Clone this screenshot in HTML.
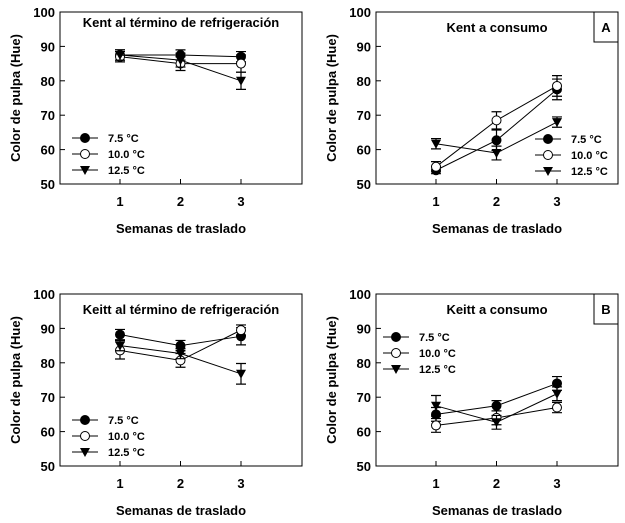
<!DOCTYPE html>
<html><head><meta charset="utf-8">
<style>
html,body{margin:0;padding:0;background:#fff;}
svg{display:block;font-family:"Liberation Sans","DejaVu Sans",sans-serif;font-weight:bold;}
</style></head>
<body>
<svg id="chart" width="625" height="523" viewBox="0 0 625 523" xmlns="http://www.w3.org/2000/svg"></svg>
<script>
const weeks = [1, 2, 3];
const yTicks = [50, 60, 70, 80, 90, 100];
const seriesLabels = ["7.5 °C", "10.0 °C", "12.5 °C"];
const titles = ["Kent al término de refrigeración", "Kent a consumo", "Keitt al término de refrigeración", "Keitt a consumo"];
const kentRef75 = [87.5, 87.5, 87];
const kentRef100 = [87, 85, 85];
const kentRef125 = [87.5, 86, 80];
const kentRefErr = [[1.5, 1.5, 1.5], [1.5, 2, 2.5], [1.5, 2, 2.5]];
const kentCon75 = [54, 62.7, 77.5];
const kentCon100 = [55, 68.5, 78.5];
const kentCon125 = [61.7, 59, 68];
const kentConErr = [[1, 3, 3], [1.5, 2.5, 3], [1.5, 2, 1.5]];
const keittRef75 = [88.2, 85, 87.7];
const keittRef100 = [83.6, 80.7, 89.5];
const keittRef125 = [85, 82.7, 76.8];
const keittRefErr = [[1.5, 1.5, 2.5], [2.5, 2, 1.5], [1.5, 1.5, 3]];
const keittCon75 = [65, 67.5, 74];
const keittCon100 = [61.8, 64, 67];
const keittCon125 = [67.5, 62.7, 71];
const keittConErr = [[2, 1.5, 2], [2, 2, 1.5], [3, 2, 2]];

const NS = "http://www.w3.org/2000/svg";
const svg = document.getElementById("chart");
function mk(tag, attrs, parent, text) {
  const e = document.createElementNS(NS, tag);
  for (const k in attrs) e.setAttribute(k, attrs[k]);
  if (text !== undefined) e.textContent = text;
  (parent || svg).appendChild(e);
  return e;
}
const panels = [
  {l:60, r:302, t:12, b:184, data:[kentRef75,kentRef100,kentRef125], err:kentRefErr, title:0, ty:27, tx:181, leg:{x:72, y:138}, box:null, name:"kent-refrigeration"},
  {l:376, r:618, t:12, b:184, data:[kentCon75,kentCon100,kentCon125], err:kentConErr, title:1, ty:32, tx:497, leg:{x:535, y:139}, box:"A", name:"kent-consumption"},
  {l:60, r:302, t:294, b:466, data:[keittRef75,keittRef100,keittRef125], err:keittRefErr, title:2, ty:314, tx:181, leg:{x:72, y:420}, box:null, name:"keitt-refrigeration"},
  {l:376, r:618, t:294, b:466, data:[keittCon75,keittCon100,keittCon125], err:keittConErr, title:3, ty:314, tx:497, leg:{x:383, y:337}, box:"B", name:"keitt-consumption"}
];
function marker(g, kind, x, y) {
  let m;
  if (kind === 0) m = mk("circle", {cx:x, cy:y, r:4.5, fill:"#000", stroke:"#000"}, g);
  else if (kind === 1) m = mk("circle", {cx:x, cy:y, r:4.5, fill:"#fff", stroke:"#000", "stroke-width":1}, g);
  else m = mk("path", {d:`M${x-5},${y-4}L${x+5},${y-4}L${x},${y+5}Z`, fill:"#000"}, g);
  return m;
}
panels.forEach(p => {
  const g = mk("g", {});
  
  
  const xs = w => p.l + 60 + (w - 1) * 60.5;
  const ys = v => p.b - (v - 50) / 50 * (p.b - p.t);
  const frame = mk("rect", {x:p.l, y:p.t, width:p.r-p.l, height:p.b-p.t, fill:"none", stroke:"#000", "stroke-width":1}, g);
  
  
  yTicks.forEach(v => {
    mk("line", {x1:p.l, x2:p.l+5, y1:ys(v), y2:ys(v), stroke:"#000"}, g);
    const t = mk("text", {x:p.l-5, y:ys(v)+5, "text-anchor":"end", "font-size":13}, g, v);
    
    
  });
  weeks.forEach(w => {
    mk("line", {x1:xs(w), x2:xs(w), y1:p.b, y2:p.b-5, stroke:"#000"}, g);
    const t = mk("text", {x:xs(w), y:p.b+22, "text-anchor":"middle", "font-size":13}, g, w);
    
    
  });
  const xt = mk("text", {x:(p.l+p.r)/2, y:p.b+49, "text-anchor":"middle", "font-size":13}, g, "Semanas de traslado");
  
  
  const cy = (p.t+p.b)/2, cx = p.l - 40;
  const yt = mk("text", {x:cx, y:cy, "text-anchor":"middle", "font-size":13, transform:`rotate(-90 ${cx} ${cy})`}, g, "Color de pulpa (Hue)");
  
  
  const tt = mk("text", {x:p.tx, y:p.ty, "text-anchor":"middle", "font-size":13}, g, titles[p.title]);
  
  
  if (p.box) {
    const b = mk("rect", {x:p.r-24, y:p.t, width:24, height:30, fill:"#fff", stroke:"#000"}, g);
    
    
    const bt = mk("text", {x:p.r-12, y:p.t+20, "text-anchor":"middle", "font-size":13}, g, p.box);
    
    
  }
  p.data.forEach((vals, si) => {
    const sg = mk("g", {}, g);
    
    
    const d = vals.map((v,i) => (i?"L":"M") + xs(weeks[i]) + "," + ys(v)).join("");
    const ln = mk("path", {d:d, fill:"none", stroke:"#000", "stroke-width":1}, sg);
    
    
    vals.forEach((v,i) => {
      const x = xs(weeks[i]), e = p.err[si][i];
      const eb = mk("path", {d:`M${x},${ys(v+e)}L${x},${ys(v-e)}M${x-5},${ys(v+e)}L${x+5},${ys(v+e)}M${x-5},${ys(v-e)}L${x+5},${ys(v-e)}`, stroke:"#000", "stroke-width":1.2, fill:"none"}, sg);
      
      
    });
    vals.forEach((v,i) => {
      const m = marker(sg, si, xs(weeks[i]), ys(v));
      
      
    });
  });
  seriesLabels.forEach((lab, si) => {
    const lg = mk("g", {}, g);
    
    
    const y = p.leg.y + si*16;
    mk("line", {x1:p.leg.x, x2:p.leg.x+26, y1:y, y2:y, stroke:"#000"}, lg);
    marker(lg, si, p.leg.x+13, y);
    mk("text", {x:p.leg.x+36, y:y+4, "font-size":11}, lg, lab);
  });
});
</script>
</body></html>
